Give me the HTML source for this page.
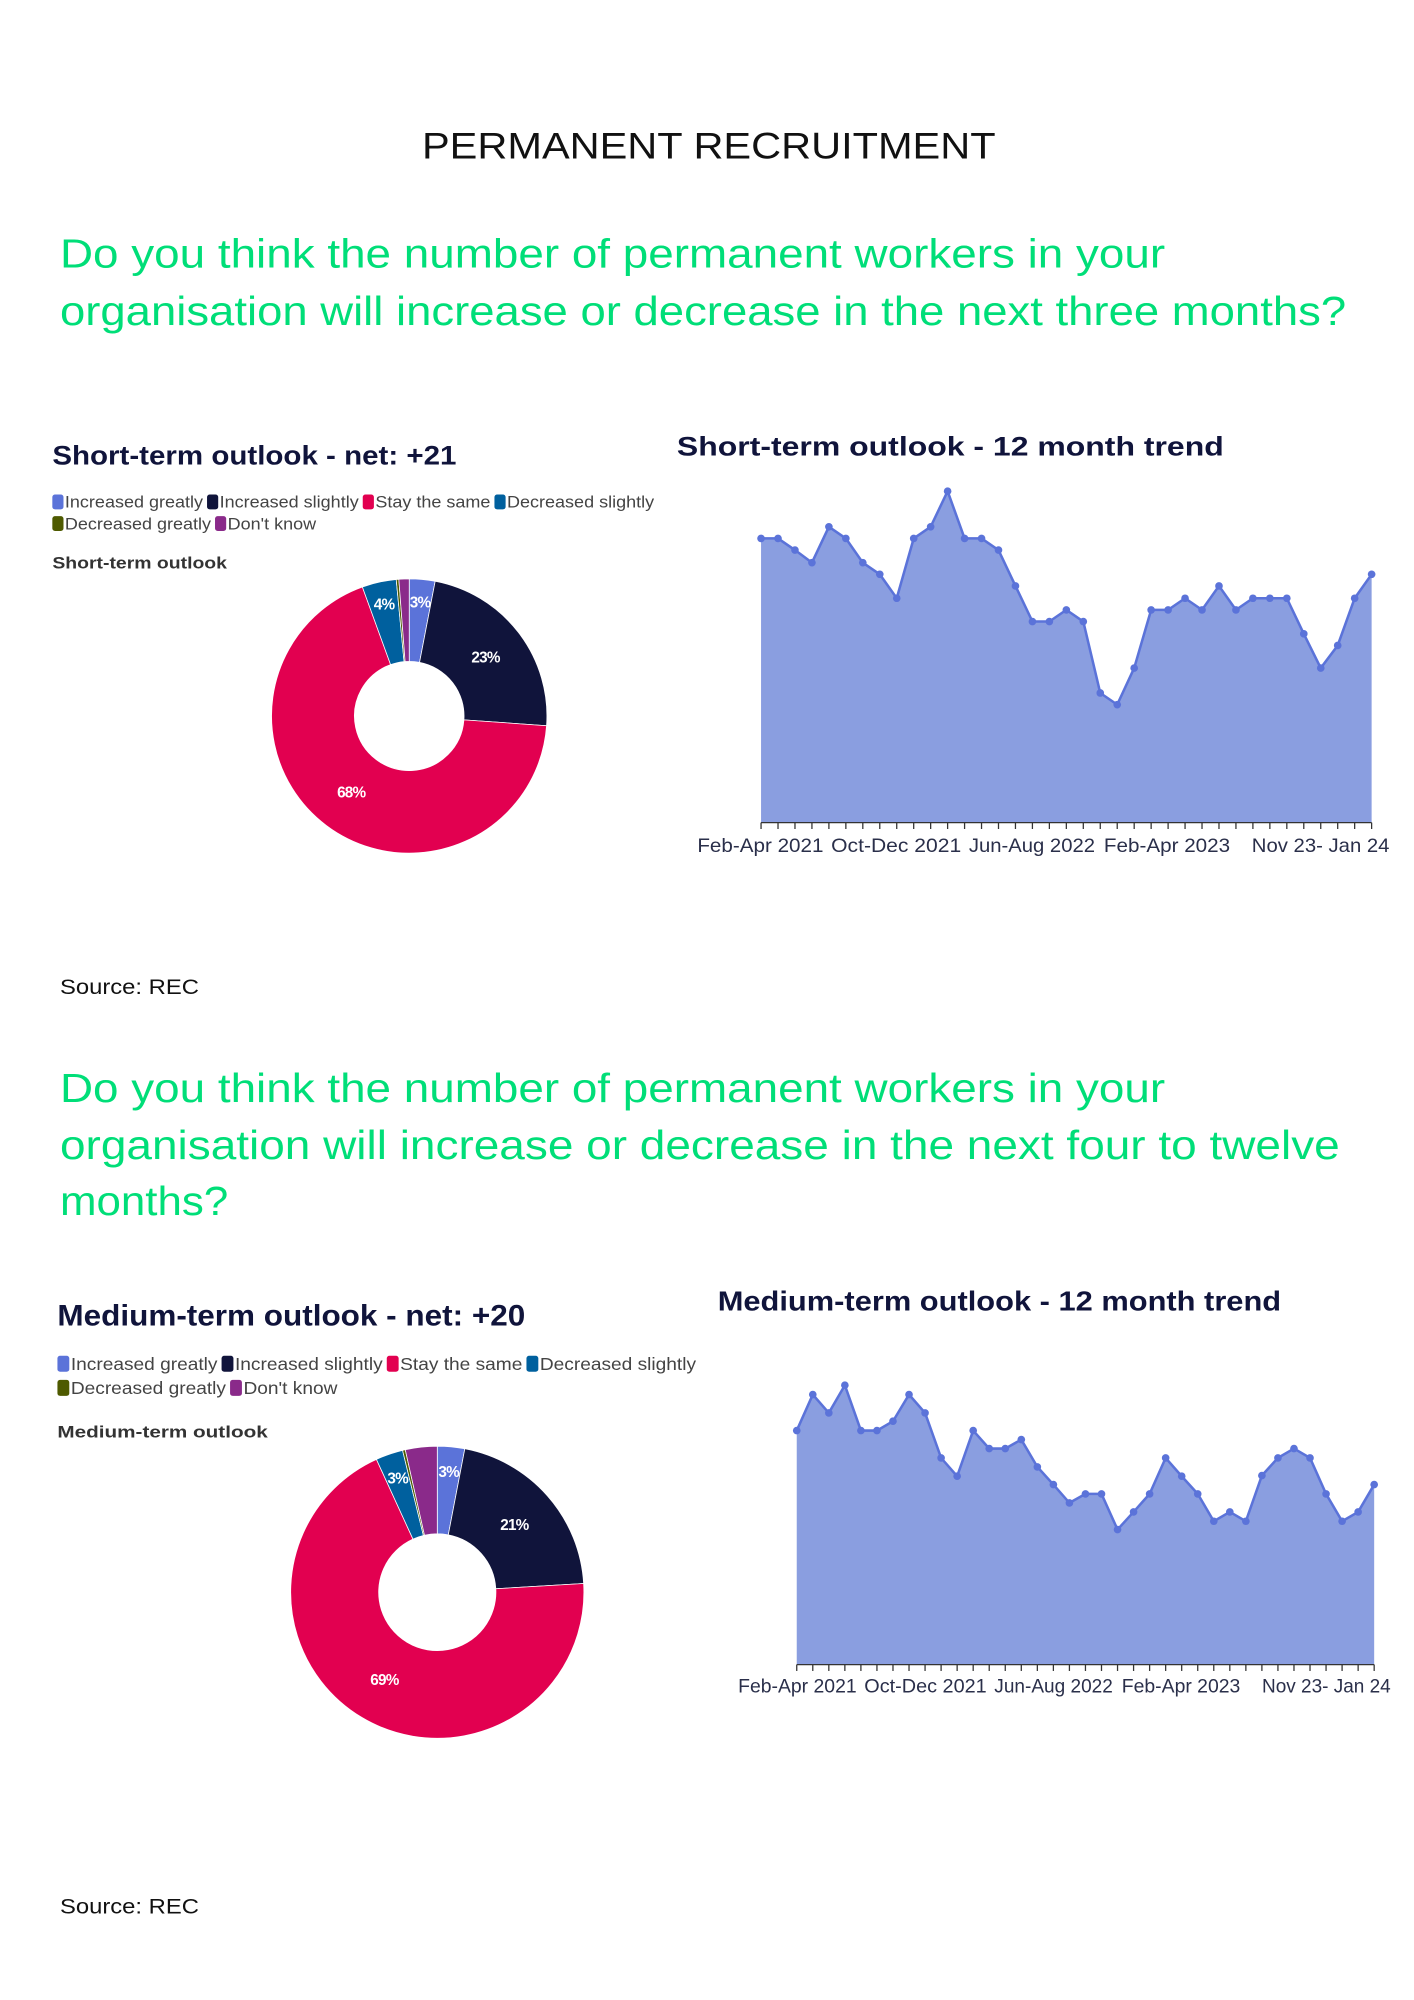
<!DOCTYPE html>
<html><head><meta charset="utf-8"><style>
html,body{margin:0;padding:0;background:#fff}
svg{display:block}
text{font-family:"Liberation Sans",sans-serif}
</style></head><body>
<svg id="s" width="1414" height="2000" viewBox="0 0 1100 1556" xmlns="http://www.w3.org/2000/svg">
<rect width="1100" height="1556" fill="#fff"/>
<g transform="translate(1,3.75) scale(0.9917,0.988)">
<text x="330" y="121" font-size="29" textLength="450" lengthAdjust="spacingAndGlyphs" fill="#111">PERMANENT RECRUITMENT</text>
<g fill="#00de78" font-size="32" lengthAdjust="spacingAndGlyphs">
<text x="46" y="207" textLength="867" lengthAdjust="spacingAndGlyphs">Do you think the number of permanent workers in your</text>
<text x="46" y="252" textLength="1009" lengthAdjust="spacingAndGlyphs">organisation will increase or decrease in the next three months?</text>
<text x="46" y="864" textLength="867" lengthAdjust="spacingAndGlyphs">Do you think the number of permanent workers in your</text>
<text x="46" y="909" textLength="1004" lengthAdjust="spacingAndGlyphs">organisation will increase or decrease in the next four to twelve</text>
<text x="46" y="953" textLength="132" lengthAdjust="spacingAndGlyphs">months?</text>
</g>
<g fill="#111" font-size="17">
<text x="46" y="779" textLength="109" lengthAdjust="spacingAndGlyphs">Source: REC</text>
<text x="46" y="1503" textLength="109" lengthAdjust="spacingAndGlyphs">Source: REC</text>
</g>
<g fill="#10143b" font-weight="bold">
<text x="40" y="362" font-size="21" textLength="317" lengthAdjust="spacingAndGlyphs">Short-term outlook - net: +21</text>
<text x="530" y="355" font-size="21" textLength="429" lengthAdjust="spacingAndGlyphs">Short-term outlook - 12 month trend</text>
<text x="44" y="1040" font-size="23" textLength="367" lengthAdjust="spacingAndGlyphs">Medium-term outlook - net: +20</text>
<text x="562" y="1028" font-size="22" textLength="442" lengthAdjust="spacingAndGlyphs">Medium-term outlook - 12 month trend</text>
</g>
<g fill="#333" font-weight="bold" font-size="13">
<text x="40" y="444" textLength="137" lengthAdjust="spacingAndGlyphs">Short-term outlook</text>
<text x="44" y="1128" textLength="165" lengthAdjust="spacingAndGlyphs">Medium-term outlook</text>
</g>
<g id="leg"></g>
<g id="charts"></g>
</g>
</svg>
<script>
var NS="http://www.w3.org/2000/svg",C=document.getElementById('charts'),LG=document.getElementById('leg');
function el(t,a,p,txt){var e=document.createElementNS(NS,t);for(var k in a)e.setAttribute(k,a[k]);if(txt)e.textContent=txt;(p||C).appendChild(e);return e;}
var cols=["#5b73d9","#10143b","#e20050","#00609e","#4e5a00","#8a2a8a"];
var names=["Increased greatly","Increased slightly","Stay the same","Decreased slightly","Decreased greatly","Don't know"];
function legend(x,y1,y2,fs,gap,target){
  var L=el('g',{},LG);
  var cx=x,end=0;
  for(var i=0;i<6;i++){
    if(i==4)cx=x;
    var y=i<4?y1:y2;
    el('rect',{x:cx,y:y-fs*0.8,width:fs*0.62,height:fs*0.9,rx:2,fill:cols[i]},L);
    var t=el('text',{x:cx+fs*0.7,y:y,'font-size':fs,fill:'#444'},L,names[i]);
    cx+=fs*0.7+t.getComputedTextLength()+gap;
    if(i==3)end=cx-gap;
  }
  var s=(target-x)/(end-x);
  L.setAttribute('transform','translate('+x+',0) scale('+s+',1) translate('+(-x)+',0)');
}
legend(40,396,413,13,3,512);
legend(44,1075,1094,14,3,545);
function donut(cx,cy,R,r,vals,labels){
  var s=vals.reduce(function(a,b){return a+b},0),a=0;
  vals.forEach(function(v,i){
    var a0=a/s*2*Math.PI,a1=(a+v)/s*2*Math.PI;a+=v;
    var big=(a1-a0)>Math.PI?1:0;
    function P(rr,an){return [cx+rr*Math.sin(an),cy-rr*Math.cos(an)];}
    var p1=P(R,a0),p2=P(R,a1),p3=P(r,a1),p4=P(r,a0);
    el('path',{d:'M'+p1+' A'+R+' '+R+' 0 '+big+' 1 '+p2+' L'+p3+' A'+r+' '+r+' 0 '+big+' 0 '+p4+'Z',fill:cols[i],stroke:'#fff','stroke-width':0.6});
    if(labels[i]){var m=(a0+a1)/2,lr=labels[i][1]||(R+r)/2,q=P(lr,m);
      el('text',{x:q[0],y:q[1]+4,'text-anchor':'middle','font-size':12,'font-weight':'bold',fill:'#fff','letter-spacing':'-0.6'},C,labels[i][0]);}
  });
}
donut(320,560,108,43,[3,23,68,4,0.3,1.2],[["3%",90],["23%"],["68%"],["4%",90],null,null]);
donut(342,1250,115,46,[3,21,69,3,0.3,3.5],[["3%",95],["21%"],["69%"],["3%",95],null,null]);
function area(x0,x1,base,zpk,ypk,zb,pts,labels,ly){
  var k=(base-ypk)/(zb-zpk),n=pts.length,dx=(x1-x0)/(n-1),xy=[];
  pts.forEach(function(z,i){xy.push([x0+i*dx,ypk+(z-zpk)*k]);});
  var d='M'+x0+','+base+' '+xy.map(function(p){return 'L'+p}).join(' ')+' L'+x1+','+base+'Z';
  el('path',{d:d,fill:'#8a9ee0'});
  el('polyline',{points:xy.map(function(p){return p.join(',')}).join(' '),fill:'none',stroke:'#5b73d9','stroke-width':2});
  xy.forEach(function(p){el('circle',{cx:p[0],cy:p[1],r:3,fill:'#5b73d9'});});
  el('line',{x1:x0,y1:base,x2:x1,y2:base,stroke:'#333','stroke-width':1});
  for(var i=0;i<n;i++)el('line',{x1:x0+i*dx,y1:base,x2:x0+i*dx,y2:base+5,stroke:'#333','stroke-width':1});
  labels.forEach(function(l){el('text',{x:l[1],y:ly,'font-size':15,fill:'#2a2f4a',textLength:l[2]-l[1],lengthAdjust:'spacingAndGlyphs'},C,l[0]);});
}
area(596,1075,644,268,383,1265,[410,410,445,483,375,410,483,518,590,410,375,268,410,410,445,553,660,660,625,660,875,910,800,625,625,590,625,553,625,590,590,590,697,800,732,590,518],
 [["Feb-Apr 2021",546,645],["Oct-Dec 2021",651,753],["Jun-Aug 2022",759,858],["Feb-Apr 2023",865,964],["Nov 23- Jan 24",981,1089]],667);
area(624,1077,1307,82,1087,920,[218,110,165,82,218,218,190,110,165,300,355,218,272,272,245,327,380,435,408,408,515,462,408,300,355,408,490,462,490,353,300,272,300,408,490,462,380],
 [["Feb-Apr 2021",578,671],["Oct-Dec 2021",677,773],["Jun-Aug 2022",779,872],["Feb-Apr 2023",879,972],["Nov 23- Jan 24",989,1090]],1329);
</script>
</body></html>
